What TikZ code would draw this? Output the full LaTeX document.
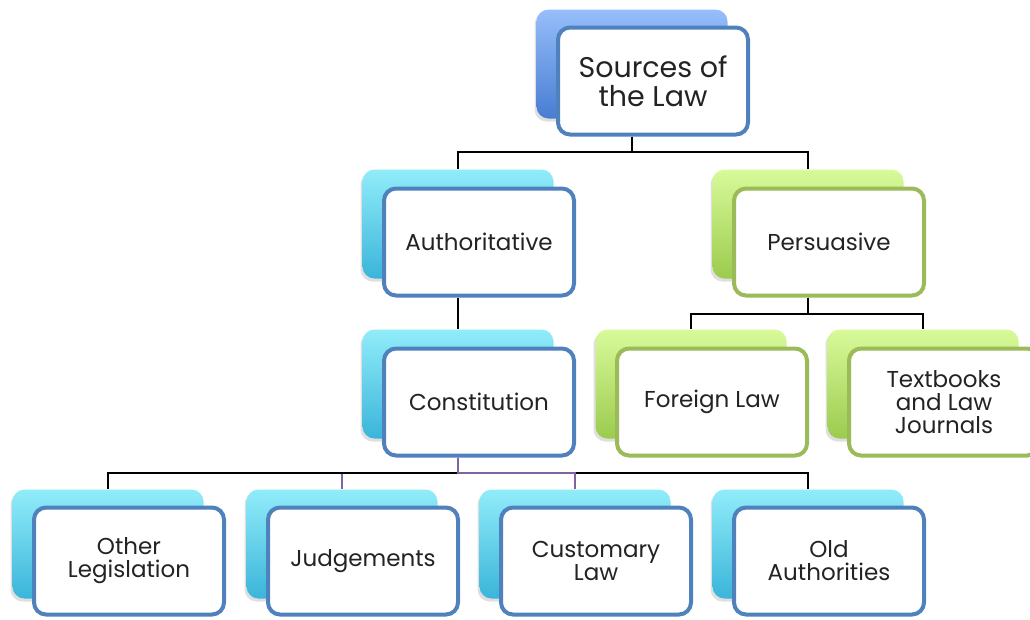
\documentclass[tikz,border=0pt]{standalone}
\usepackage{fontspec}
\setmainfont{Poppins}
\usetikzlibrary{shadows}

\definecolor{lawblue}{RGB}{79,129,189}
\definecolor{topblueA}{RGB}{150,190,250}
\definecolor{topblueB}{RGB}{72,125,210}
\definecolor{cyanA}{RGB}{145,236,250}
\definecolor{cyanB}{RGB}{58,181,217}
\definecolor{greenA}{RGB}{216,250,154}
\definecolor{greenB}{RGB}{155,203,78}
\definecolor{lawgreen}{RGB}{155,187,89}
\definecolor{linkpurple}{RGB}{128,100,162}
\definecolor{textgray}{RGB}{35,35,35}

\begin{document}
\begin{tikzpicture}[x=1pt, y=1pt]
            \tikzstyle{back} = [rectangle, rounded corners=12pt, minimum width=191pt, minimum height=109pt, drop shadow={shadow xshift=-2pt, shadow yshift=-3pt, opacity=0.25}]
            \tikzstyle{backblue} = [back, top color=topblueA, bottom color=topblueB]
            \tikzstyle{backcyan} = [back, top color=cyanA, bottom color=cyanB]
            \tikzstyle{backgreen} = [back, top color=greenA, bottom color=greenB]
            \tikzstyle{box} = [rectangle, rounded corners=12pt, minimum width=190pt, minimum height=107pt, line width=4pt, fill=white, text=textgray, align=center, font=\fontsize{23}{23}\selectfont]
            \tikzstyle{boxblue} = [box, draw=lawblue]
            \tikzstyle{boxgreen} = [box, draw=lawgreen]
            \tikzstyle{conn} = [line width=2pt, draw=black]
            \tikzstyle{connpurple} = [line width=2pt, draw=linkpurple]

            \useasboundingbox (0,0) rectangle (1030,-619);

            % Back boxes
            \node (srcback) [backblue] at (632,-64) {};
            \node (authback) [backcyan, below of=srcback, node distance=160pt, xshift=-174pt] {};
            \node (persback) [backgreen, right of=authback, node distance=350pt] {};
            \node (constitback) [backcyan, below of=authback, node distance=160pt] {};
            \node (foreignback) [backgreen, below of=persback, node distance=160pt, xshift=-117pt] {};
            \node (textback) [backgreen, right of=foreignback, node distance=232pt] {};
            \node (otherback) [backcyan, below of=constitback, node distance=160pt, xshift=-350pt] {};
            \node (judgback) [backcyan, right of=otherback, node distance=234pt] {};
            \node (custback) [backcyan, right of=judgback, node distance=233pt] {};
            \node (oldback) [backcyan, right of=custback, node distance=233pt] {};

            % Nodes
            \node (src) [boxblue, font=\fontsize{28.5}{29}\selectfont] at ([shift={(21,-17)}]srcback) {Sources of\\the Law};
            \node (auth) [boxblue] at ([shift={(21,-18)}]authback) {Authoritative};
            \node (pers) [boxgreen] at ([shift={(21,-18)}]persback) {Persuasive};
            \node (constit) [boxblue] at ([shift={(21,-18)}]constitback) {Constitution};
            \node (foreign) [boxgreen] at ([shift={(21,-18)}]foreignback) {Foreign Law};
            \node (text) [boxgreen] at ([shift={(21,-18)}]textback) {Textbooks\\and Law\\Journals};
            \node (other) [boxblue] at ([shift={(21,-17)}]otherback) {Other\\Legislation};
            \node (judg) [boxblue] at ([shift={(21,-17)}]judgback) {Judgements};
            \node (cust) [boxblue] at ([shift={(21,-17)}]custback) {Customary\\Law};
            \node (old) [boxblue] at ([shift={(21,-17)}]oldback) {Old\\Authorities};

            % Connectors
            \draw [conn] (srcback |- src.south) -- ++(0,-15) -| (authback);
            \draw [conn] (srcback |- src.south) -- ++(0,-15) -| (persback);
            \draw [conn] (authback |- auth.south) -- (constitback);
            \draw [conn] (persback |- pers.south) -- ++(0,-16) -| (foreignback);
            \draw [conn] (persback |- pers.south) -- ++(0,-16) -| (textback);
            \draw [connpurple] (constitback |- constit.south) -- ++(0,-15) -| (judgback);
            \draw [conn] (constitback |- constit.south) -- ++(0,-15) -| (otherback);
            \draw [conn] (constitback |- constit.south) -- ++(0,-15) -| (oldback);
            \draw [connpurple] (constitback |- constit.south) -- ++(0,-15) -| (custback);
        \end{tikzpicture}
\end{document}
